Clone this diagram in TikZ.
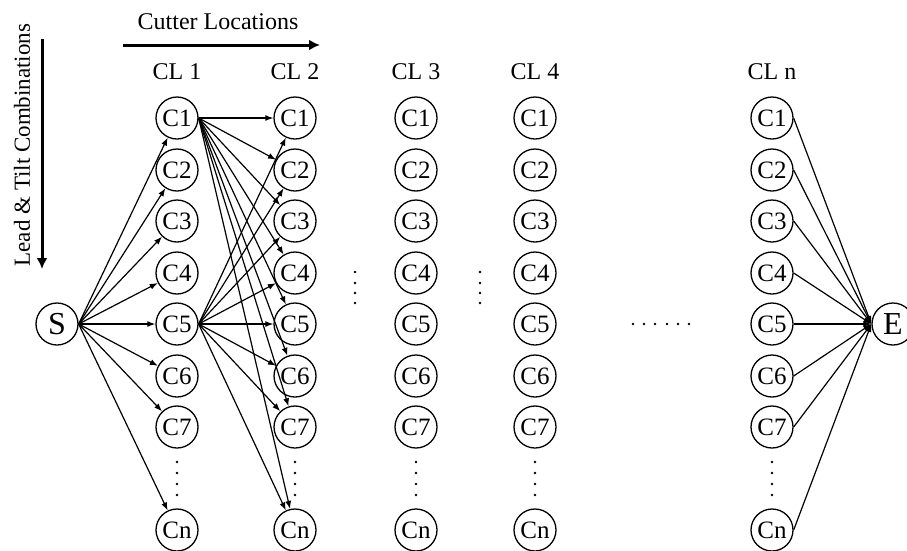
\documentclass[tikz,border=0pt]{standalone}
\usepackage{fontspec}
\setmainfont{Liberation Serif}
\usetikzlibrary{arrows.meta}
\begin{document}
\begin{tikzpicture}[x=1pt,y=-1pt,
  cnode/.style={draw,circle,minimum size=42pt,inner sep=0pt,line width=1.3pt,font=\fontsize{25}{25}\selectfont},
  bignode/.style={draw,circle,minimum size=42pt,inner sep=0pt,line width=1.3pt,font=\fontsize{32}{32}\selectfont},
  lbl/.style={font=\fontsize{24}{24}\selectfont,inner sep=0pt},
  edge/.style={line width=1.2pt,-{Latex[length=8pt,width=6pt]}},
  bigarrow/.style={line width=3pt,-{Latex[length=11pt,width=11pt]}},
  dot/.style={fill=black}]
\useasboundingbox (0,0) rectangle (907,550);
% column nodes
\foreach \cx/\cl [count=\ci] in {177/1,295/2,416/3,535/4,772/n}{
  \node[lbl] (cl\ci) at (\cx,72) {CL \cl};
  \foreach \ry/\rl in {118/1,170/2,221/3,273/4,324/5,376/6,427/7,530/n}{
    \node[cnode] (c\ci-\rl) at (\cx,\ry) {C\rl};
  }
  \foreach \dy in {462,473,484,495}{
    \fill[dot] (\cx,\dy) circle (1.3pt);
  }
}
\node[bignode] (S) at (57,324) {S};
\node[bignode] (E) at (893,324) {E};
% headings
\node[lbl] (cutter) at (218,22) {Cutter Locations};
\coordinate (ha) at (123,45);
\coordinate (hb) at (320,45);
\draw[bigarrow] (ha) -- (hb);
\node[lbl,rotate=90,font=\fontsize{23}{23}\selectfont] (lead) at (22,145) {Lead \& Tilt Combinations};
\coordinate (va) at (42,39);
\coordinate (vb) at (42,269);
\draw[bigarrow] (va) -- (vb);
% dots between columns
\foreach \dx in {355,480}{
  \foreach \dy in {272,283,293,303}{
    \fill[dot] (\dx,\dy) circle (1.3pt);
  }
}
\foreach \dx in {633,644,655,667,678,689}{
  \fill[dot] (\dx,324) circle (1.3pt);
}
% edges
\foreach \rl in {1,2,3,4,5,6,7,n}{
  \draw[edge] (S.east) -- (c1-\rl);
  \draw[edge] (c1-1.east) -- (c2-\rl);
  \draw[edge] (c1-5.east) -- (c2-\rl);
  \draw[edge] (c5-\rl.east) -- (E.west);
}
\end{tikzpicture}
\end{document}
